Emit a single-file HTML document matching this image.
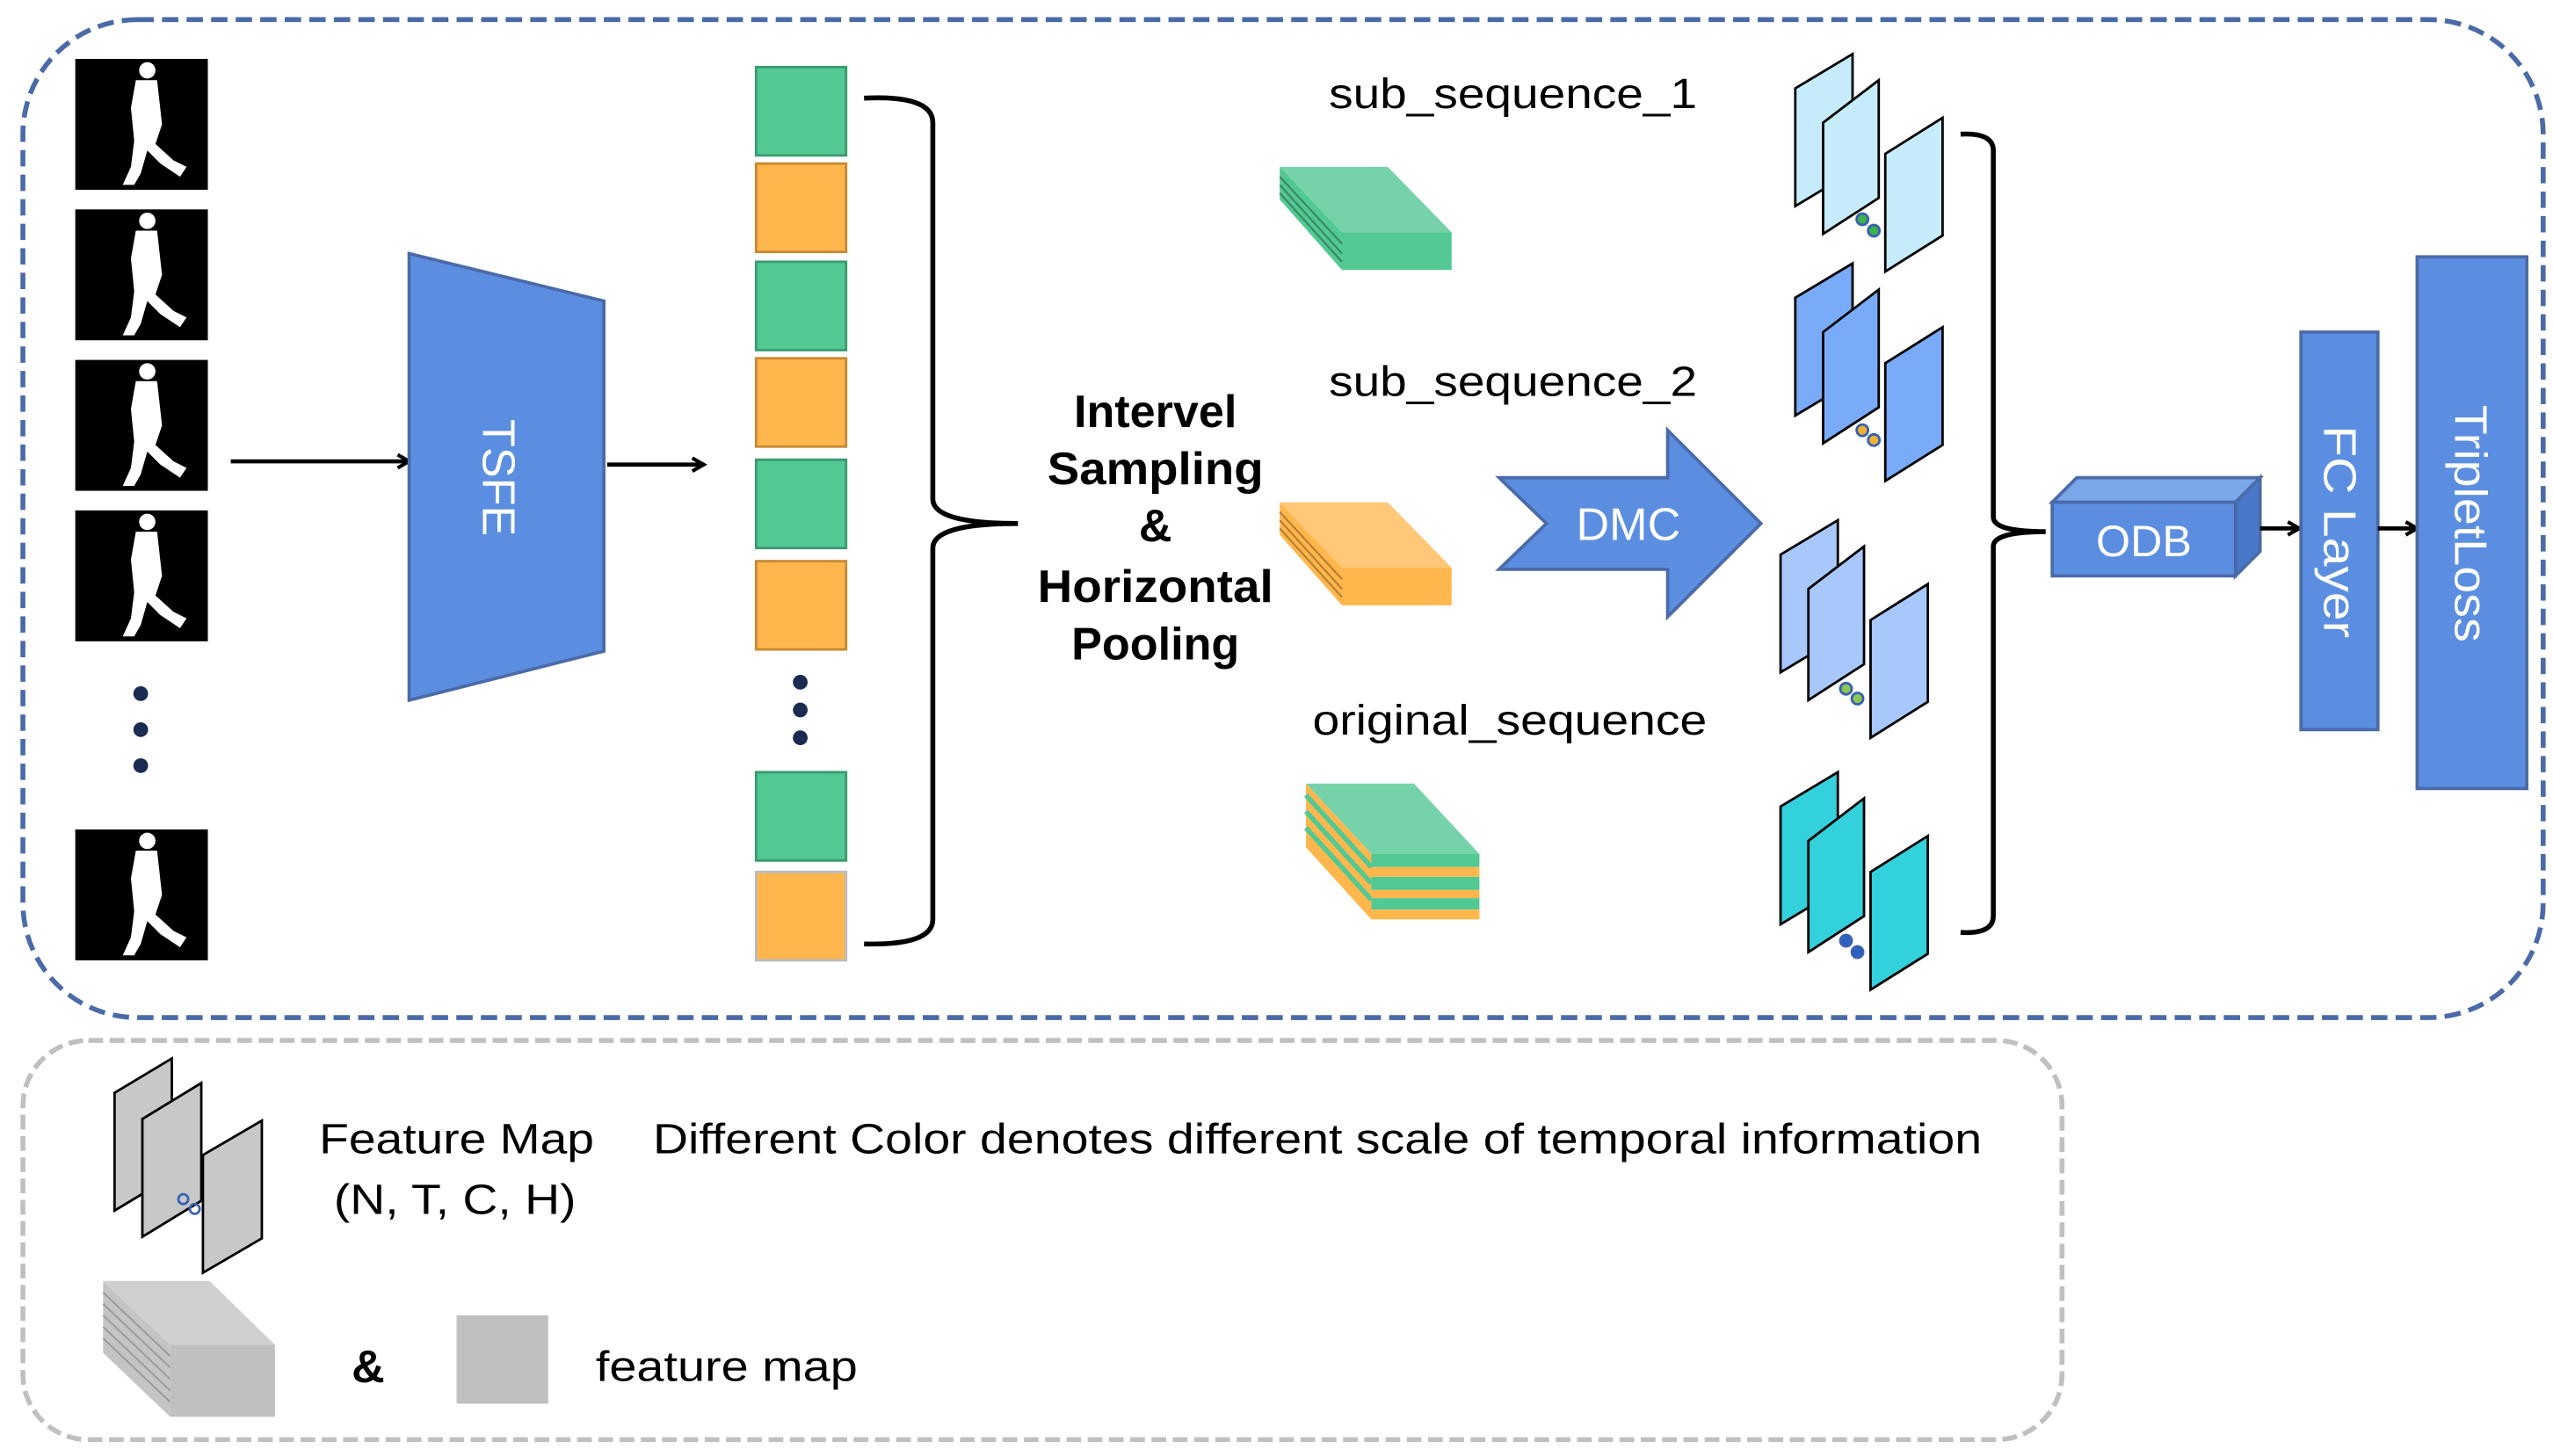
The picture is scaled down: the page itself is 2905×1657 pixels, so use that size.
<!DOCTYPE html>
<html><head><meta charset="utf-8"><style>html,body{margin:0;padding:0;background:#fff}svg{display:block}text{font-family:"Liberation Sans",Arial,sans-serif}</style></head>
<body>
<svg width="2905" height="1657" viewBox="0 0 1560 890" preserveAspectRatio="none" xmlns="http://www.w3.org/2000/svg">
<defs>
<marker id="ah" markerWidth="10" markerHeight="10" refX="8" refY="5" orient="auto" markerUnits="userSpaceOnUse"><path d="M1,1 L8,5 L1,9" fill="none" stroke="#000" stroke-width="2.2"/></marker>
<g id="sil">
<rect x="0" y="0" width="81" height="80" fill="#000"/>
<circle cx="44" cy="7" r="5" fill="#fff"/>
<path d="M37,13 L50,13 L53,40 L49,52 L60,62 L68,66 L64,72 L52,64 L44,56 L40,70 L36,77 L29,77 L34,66 L36,50 L34,30 Z" fill="#fff"/>
</g>
<g id="fm">
<polygon points="0,18 35,-3 35,69 0,90" />
<polygon points="17,39 51,13 51,85 17,107" />
<polygon points="55,58 90,36 90,108 55,130" />
</g>
</defs>

<rect x="14" y="12" width="1540" height="610" rx="70" fill="none" stroke="#4a6aa8" stroke-width="3" stroke-dasharray="10,5"/>
<rect x="14" y="636" width="1246" height="244" rx="40" fill="none" stroke="#c0c0c0" stroke-width="3" stroke-dasharray="9,4"/>

<use href="#sil" x="46" y="36"/>
<use href="#sil" x="46" y="128"/>
<use href="#sil" x="46" y="220"/>
<use href="#sil" x="46" y="312"/>
<use href="#sil" x="46" y="507"/>
<g fill="#1a2a50"><circle cx="86" cy="424" r="4.5"/><circle cx="86" cy="446" r="4.5"/><circle cx="86" cy="468" r="4.5"/></g>

<line x1="141" y1="282" x2="250" y2="282" stroke="#000" stroke-width="2.5" marker-end="url(#ah)"/>
<polygon points="250,155 369,184 369,398 250,428" fill="#5b8ee0" stroke="#4a6aa8" stroke-width="2"/>
<text x="0" y="0" transform="translate(295,292) rotate(90)" fill="#fff" font-size="28" text-anchor="middle">TSFE</text>
<line x1="371" y1="284" x2="430" y2="284" stroke="#000" stroke-width="2.5" marker-end="url(#ah)"/>

<g stroke-width="1.5">
<rect x="462" y="41" width="55" height="54" fill="#52c993" stroke="#3a9a70"/>
<rect x="462" y="100" width="55" height="54" fill="#ffb74d" stroke="#c88830"/>
<rect x="462" y="160" width="55" height="54" fill="#52c993" stroke="#3a9a70"/>
<rect x="462" y="219" width="55" height="54" fill="#ffb74d" stroke="#c88830"/>
<rect x="462" y="281" width="55" height="54" fill="#52c993" stroke="#3a9a70"/>
<rect x="462" y="343" width="55" height="54" fill="#ffb74d" stroke="#c88830"/>
<rect x="462" y="472" width="55" height="54" fill="#52c993" stroke="#3a9a70"/>
<rect x="462" y="533" width="55" height="54" fill="#ffb74d" stroke="#bbbbbb"/>
</g>
<g fill="#1a2a50"><circle cx="489" cy="417" r="4.5"/><circle cx="489" cy="434" r="4.5"/><circle cx="489" cy="451" r="4.5"/></g>

<path d="M528,60 Q570,58 570,75 L570,305 Q570,320 622,320 Q570,320 570,335 L570,562 Q570,578 528,577" fill="none" stroke="#000" stroke-width="3"/>

<g font-size="28" font-weight="bold" text-anchor="middle" fill="#000">
<text x="706" y="261">Intervel</text>
<text x="706" y="296" textLength="132" lengthAdjust="spacingAndGlyphs">Sampling</text>
<text x="706" y="331">&amp;</text>
<text x="706" y="368" textLength="144" lengthAdjust="spacingAndGlyphs">Horizontal</text>
<text x="706" y="403">Pooling</text>
</g>

<g font-size="26" fill="#000">
<text x="812" y="66" textLength="225" lengthAdjust="spacingAndGlyphs">sub_sequence_1</text>
<text x="812" y="242" textLength="225" lengthAdjust="spacingAndGlyphs">sub_sequence_2</text>
<text x="802" y="449" textLength="241" lengthAdjust="spacingAndGlyphs">original_sequence</text>
</g>

<g>
<polygon points="782,102 848,102 887,142 820,142" fill="#76d3a9"/>
<polygon points="782,102 820,142 820,165 782,122" fill="#52c993"/>
<rect x="820" y="142" width="67" height="23" fill="#52c993"/>
<g stroke="#3a8a66" stroke-width="1.2"><line x1="782" y1="108" x2="820" y2="149"/><line x1="782" y1="113" x2="820" y2="155"/><line x1="782" y1="118" x2="820" y2="160"/></g>
</g>
<g>
<polygon points="782,307 848,307 887,347 820,347" fill="#ffc878"/>
<polygon points="782,307 820,347 820,370 782,327" fill="#ffb74d"/>
<rect x="820" y="347" width="67" height="23" fill="#ffb74d"/>
<g stroke="#b98030" stroke-width="1.2"><line x1="782" y1="313" x2="820" y2="354"/><line x1="782" y1="318" x2="820" y2="360"/><line x1="782" y1="323" x2="820" y2="365"/></g>
</g>
<g>
<polygon points="798,479 864,479 904,522 838,522" fill="#76d3a9"/>
<polygon points="798,479 838,522 838,562 798,518" fill="#ffb74d"/>
<g stroke="#52c993" stroke-width="3"><line x1="798" y1="486" x2="838" y2="530"/><line x1="798" y1="496" x2="838" y2="540"/><line x1="798" y1="506" x2="838" y2="550"/></g>
<rect x="838" y="522" width="66" height="8" fill="#52c993"/>
<rect x="838" y="530" width="66" height="6" fill="#ffb74d"/>
<rect x="838" y="536" width="66" height="8" fill="#52c993"/>
<rect x="838" y="544" width="66" height="5" fill="#ffb74d"/>
<rect x="838" y="549" width="66" height="7" fill="#52c993"/>
<rect x="838" y="556" width="66" height="6" fill="#ffb74d"/>
</g>

<polygon points="916,292 1019,292 1019,263 1076,320 1019,377 1019,348 916,348 945,320" fill="#5b8ee0" stroke="#4a6aa8" stroke-width="2"/>
<text x="995" y="330" fill="#fff" font-size="28" text-anchor="middle">DMC</text>

<g stroke="#000" stroke-width="1.5">
<use href="#fm" x="1097" y="36" fill="#c6ecfb"/>
<use href="#fm" x="1097" y="164" fill="#7aabf8"/>
<use href="#fm" x="1088" y="321" fill="#a8c8fb"/>
<use href="#fm" x="1088" y="475" fill="#33d1dc"/>
</g>
<g stroke="#3a60b0" stroke-width="1.5">
<circle cx="1138" cy="134" r="3.5" fill="#3bb34a"/><circle cx="1145" cy="141" r="3.5" fill="#3bb34a"/>
<circle cx="1138" cy="263" r="3.5" fill="#f0b030"/><circle cx="1145" cy="269" r="3.5" fill="#f0b030"/>
<circle cx="1128" cy="421" r="3.5" fill="#8ac850"/><circle cx="1135" cy="427" r="3.5" fill="#8ac850"/>
<circle cx="1128" cy="575" r="3.5" fill="#2a60c0"/><circle cx="1135" cy="582" r="3.5" fill="#2a60c0"/>
</g>

<path d="M1198,82 Q1218,81 1218,92 L1218,316 Q1218,325 1250,325 Q1218,325 1218,334 L1218,560 Q1218,571 1198,570" fill="none" stroke="#000" stroke-width="3"/>

<polygon points="1254,307 1269,292 1381,292 1366,307" fill="#7aa6ea" stroke="#4a6aa8" stroke-width="2"/>
<polygon points="1366,307 1381,292 1381,337 1366,352" fill="#4a78c8" stroke="#4a6aa8" stroke-width="2"/>
<rect x="1254" y="307" width="112" height="45" fill="#5b8ee0" stroke="#4a6aa8" stroke-width="2"/>
<text x="1310" y="340" fill="#fff" font-size="27" text-anchor="middle">ODB</text>
<line x1="1381" y1="323" x2="1405" y2="323" stroke="#000" stroke-width="2.5" marker-end="url(#ah)"/>

<rect x="1406" y="203" width="47" height="243" fill="#5b8ee0" stroke="#4a6aa8" stroke-width="2"/>
<text transform="translate(1420,325) rotate(90)" fill="#fff" font-size="28" text-anchor="middle" textLength="130" lengthAdjust="spacingAndGlyphs">FC  Layer</text>
<line x1="1453" y1="323" x2="1477" y2="323" stroke="#000" stroke-width="2.5" marker-end="url(#ah)"/>

<rect x="1477" y="157" width="67" height="325" fill="#5b8ee0" stroke="#4a6aa8" stroke-width="2"/>
<text transform="translate(1500,320) rotate(90)" fill="#fff" font-size="28" text-anchor="middle" textLength="145" lengthAdjust="spacingAndGlyphs">TripletLoss</text>

<g stroke="#000" stroke-width="1.5" fill="#c8c8c8">
<polygon points="70,668 105,647 105,719 70,740"/>
<polygon points="87,684 123,662 123,734 87,756"/>
<polygon points="124,706 160,685 160,757 124,778"/>
</g>
<g stroke="#3a60b0" stroke-width="1.5" fill="none"><circle cx="112" cy="733" r="3"/><circle cx="119" cy="739" r="3"/></g>
<g font-size="26" fill="#000">
<text x="195" y="705" textLength="168" lengthAdjust="spacingAndGlyphs">Feature Map</text>
<text x="204" y="742" textLength="148" lengthAdjust="spacingAndGlyphs">(N, T, C, H)</text>
<text x="399" y="705" textLength="812" lengthAdjust="spacingAndGlyphs">Different Color denotes different scale of temporal information</text>
<text x="364" y="844" textLength="160" lengthAdjust="spacingAndGlyphs">feature map</text>
</g>
<polygon points="63,783 128,783 168,822 104,822" fill="#d0d0d0"/>
<polygon points="63,783 104,822 104,866 63,827" fill="#c4c4c4"/>
<g stroke="#999" stroke-width="1"><line x1="63" y1="790" x2="104" y2="829"/><line x1="63" y1="797" x2="104" y2="836"/><line x1="63" y1="804" x2="104" y2="843"/><line x1="63" y1="811" x2="104" y2="850"/><line x1="63" y1="818" x2="104" y2="857"/></g>
<rect x="104" y="822" width="64" height="44" fill="#c0c0c0"/>
<text x="225" y="845" font-size="28" font-weight="bold" text-anchor="middle">&amp;</text>
<rect x="279" y="804" width="56" height="54" fill="#c0c0c0"/>
</svg>
</body></html>
